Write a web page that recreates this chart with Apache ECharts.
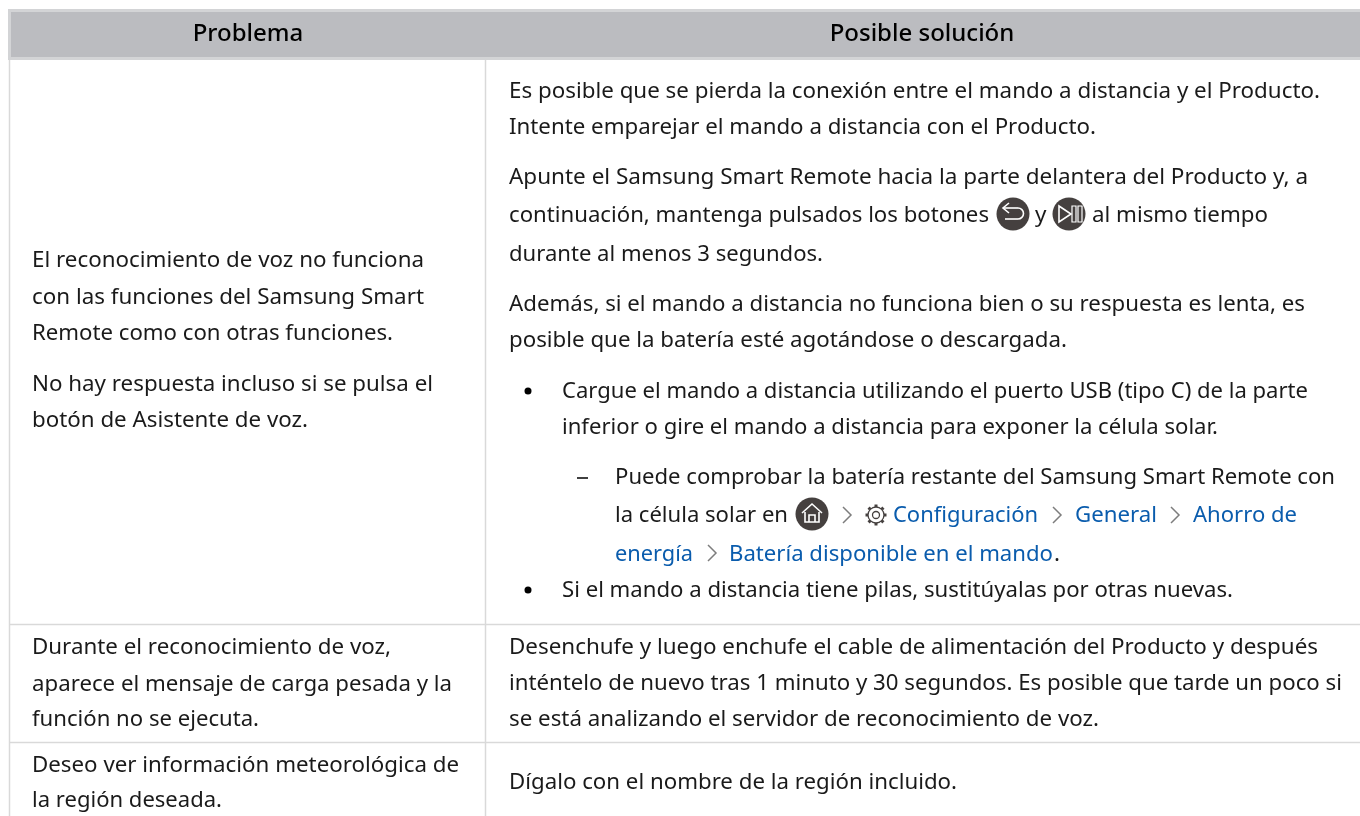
<!DOCTYPE html>
<html>
<head>
<meta charset="utf-8">
<style>
html, body { margin: 0; padding: 0; background: #fff; }
#main { width: 1360px; height: 816px; }
</style>
<script src="https://cdn.jsdelivr.net/npm/echarts@6/dist/echarts.min.js"></script>
</head>
<body>
<div id="main"></div>
<script>
// table text
const headers = ['Problema', 'Posible solución']
const problemLines = [
  'El reconocimiento de voz no funciona',
  'con las funciones del Samsung Smart',
  'Remote como con otras funciones.',
  'No hay respuesta incluso si se pulsa el',
  'botón de Asistente de voz.',
  'Durante el reconocimiento de voz,',
  'aparece el mensaje de carga pesada y la',
  'función no se ejecuta.',
  'Deseo ver información meteorológica de',
  'la región deseada.'
]
const solutionLines = [
  'Es posible que se pierda la conexión entre el mando a distancia y el Producto.',
  'Intente emparejar el mando a distancia con el Producto.',
  'Apunte el Samsung Smart Remote hacia la parte delantera del Producto y, a',
  'continuación, mantenga pulsados los botones',
  'y',
  'al mismo tiempo',
  'durante al menos 3 segundos.',
  'Además, si el mando a distancia no funciona bien o su respuesta es lenta, es',
  'posible que la batería esté agotándose o descargada.',
  'Desenchufe y luego enchufe el cable de alimentación del Producto y después',
  'inténtelo de nuevo tras 1 minuto y 30 segundos. Es posible que tarde un poco si',
  'se está analizando el servidor de reconocimiento de voz.',
  'Dígalo con el nombre de la región incluido.'
]
const bulletLines = [
  'Cargue el mando a distancia utilizando el puerto USB (tipo C) de la parte',
  'inferior o gire el mando a distancia para exponer la célula solar.',
  'Si el mando a distancia tiene pilas, sustitúyalas por otras nuevas.'
]
const subLines = [
  'Puede comprobar la batería restante del Samsung Smart Remote con',
  'la célula solar en',
  'energía'
]
const menuPath = ['Configuración', 'General', 'Ahorro de', 'Batería disponible en el mando']

const font = '"Noto Sans", sans-serif'
const fontSize = 22.4
const inkColor = '#1a1a1a'
const linkColor = '#0a5cad'
const lineColor = '#d9d9d9'
const chevronColor = '#7d7d7d'
const iconColor = '#45403f'

const measureCtx = document.createElement('canvas').getContext('2d')

// endX squeezes the line a little so it stops where the original font stops
function label(text, x, baseline, color, endX) {
  const fontStr = '400 ' + fontSize + 'px ' + font
  measureCtx.font = fontStr
  const scale = endX ? (endX - x) / measureCtx.measureText(text).width : 1
  return {
    type: 'text',
    x: x,
    y: baseline + 1 - fontSize * 0.388,
    scaleX: scale,
    style: { text: text, fill: color || inkColor, font: fontStr, align: 'left', verticalAlign: 'middle' }
  }
}
function headerLabel(text, x) {
  return {
    type: 'text',
    x: x,
    y: 34.2,
    style: { text: text, fill: '#000', font: '500 24px ' + font, align: 'center', verticalAlign: 'middle' }
  }
}
function rule(x1, y1, x2, y2) {
  return { type: 'line', shape: { x1: x1, y1: y1, x2: x2, y2: y2 }, style: { stroke: lineColor, lineWidth: 1.5 } }
}
function chevron(cx, cy) {
  return {
    type: 'polyline',
    shape: { points: [[cx - 4, cy - 8], [cx + 4, cy], [cx - 4, cy + 8]] },
    style: { stroke: chevronColor, lineWidth: 1.5, fill: 'none' }
  }
}
function disc(cx, cy) {
  return { type: 'circle', shape: { cx: cx, cy: cy, r: 16.5 }, style: { fill: iconColor } }
}
function stroke(points, close) {
  return {
    type: close ? 'polygon' : 'polyline',
    shape: { points: points },
    style: { stroke: '#fff', lineWidth: 1.6, fill: 'none' }
  }
}
function backIcon(cx, cy) {
  return [
    disc(cx, cy),
    stroke([[cx - 4, cy - 11], [cx - 10, cy - 6], [cx - 4, cy - 1]]),
    stroke([[cx - 10, cy - 6], [cx + 5, cy - 6]]),
    {
      type: 'arc',
      shape: { cx: cx + 5, cy: cy - 0.5, r: 5.5, startAngle: -Math.PI / 2, endAngle: Math.PI / 2, clockwise: true },
      style: { stroke: '#fff', lineWidth: 1.6, fill: 'none' }
    },
    stroke([[cx + 5, cy + 5], [cx - 8, cy + 5]])
  ]
}
function playPauseIcon(cx, cy) {
  return [
    disc(cx, cy),
    stroke([[cx - 10, cy - 8], [cx + 2, cy], [cx - 10, cy + 8]], true),
    { type: 'rect', shape: { x: cx + 3, y: cy - 8, width: 4, height: 16 }, style: { stroke: '#fff', lineWidth: 1.2, fill: 'none' } },
    { type: 'rect', shape: { x: cx + 9, y: cy - 8, width: 4, height: 16 }, style: { stroke: '#fff', lineWidth: 1.2, fill: 'none' } }
  ]
}
function homeIcon(cx, cy) {
  return [
    disc(cx, cy),
    stroke([[cx - 10, cy - 1], [cx, cy - 10], [cx + 10, cy - 1]]),
    stroke([[cx - 7, cy - 2], [cx - 7, cy + 8], [cx + 7, cy + 8], [cx + 7, cy - 2]]),
    stroke([[cx - 3, cy + 8], [cx - 3, cy + 1], [cx + 3, cy + 1], [cx + 3, cy + 8]])
  ]
}
function gearIcon(cx, cy) {
  const teeth = [0, 1, 2, 3, 4, 5, 6, 7].map(i => {
    const a = i * Math.PI / 4
    return {
      type: 'line',
      shape: {
        x1: cx + Math.cos(a) * 7.5, y1: cy + Math.sin(a) * 7.5,
        x2: cx + Math.cos(a) * 10.5, y2: cy + Math.sin(a) * 10.5
      },
      style: { stroke: iconColor, lineWidth: 3 }
    }
  })
  return teeth.concat([
    { type: 'circle', shape: { cx: cx, cy: cy, r: 8 }, style: { stroke: iconColor, lineWidth: 1.3, fill: '#fff' } },
    { type: 'circle', shape: { cx: cx, cy: cy, r: 3.5 }, style: { stroke: iconColor, lineWidth: 1.3, fill: '#fff' } }
  ])
}

const elements = [
  { type: 'rect', shape: { x: 8, y: 9, width: 1352, height: 51 }, style: { fill: '#d3d4d6' } },
  { type: 'rect', shape: { x: 11, y: 12, width: 1349, height: 45 }, style: { fill: '#bbbcc0' } },
  rule(9.5, 60, 9.5, 816),
  rule(485.5, 60, 485.5, 816),
  rule(10, 624.5, 1360, 624.5),
  rule(10, 742.5, 1360, 742.5),
  headerLabel(headers[0], 248),
  headerLabel(headers[1], 922)
]

const problemBase = [268, 305, 341, 392, 428, 655, 692, 727, 773, 808]
const problemEnd = [424, 424, 393, 433, 308, 391, 452, 259, 459, 222]
problemLines.forEach((t, i) => elements.push(label(t, 32, problemBase[i], inkColor, problemEnd[i])))

const solutionPos = [
  [509, 99], [509, 135], [509, 185], [509, 223], [1035, 223], [1092, 223], [509, 262],
  [509, 312], [509, 348], [509, 655], [509, 691], [509, 727], [509, 790]
]
const solutionEnd = [1320, 1096, 1308, 989, 0, 1268, 823, 1305, 1067, 1318, 1342, 1099, 957]
solutionLines.forEach((t, i) => elements.push(label(t, solutionPos[i][0], solutionPos[i][1], inkColor, solutionEnd[i])))

const bulletBase = [399, 435, 598]
const bulletEnd = [1308, 1218, 1233]
bulletLines.forEach((t, i) => elements.push(label(t, 562, bulletBase[i], inkColor, bulletEnd[i])))
elements.push({ type: 'circle', shape: { cx: 528, cy: 391, r: 3.5 }, style: { fill: '#000' } })
elements.push({ type: 'circle', shape: { cx: 528, cy: 590, r: 3.5 }, style: { fill: '#000' } })

const subBase = [485, 523, 562]
const subEnd = [1335, 788, 693]
subLines.forEach((t, i) => elements.push(label(t, 615, subBase[i], i === 2 ? linkColor : inkColor, subEnd[i])))
elements.push({ type: 'line', shape: { x1: 577, y1: 478, x2: 588, y2: 478 }, style: { stroke: '#000', lineWidth: 1.5 } })

const menuPos = [[893, 523], [1075, 523], [1193, 523], [729, 562]]
const menuEnd = [1038, 1157, 1297, 1053]
menuPath.forEach((t, i) => elements.push(label(t, menuPos[i][0], menuPos[i][1], linkColor, menuEnd[i])))
elements.push(label('.', 1054, 562))
;[[847, 515], [1057, 515], [1175, 515], [712, 553]].forEach(p => elements.push(chevron(p[0], p[1])))

backIcon(1013, 214).forEach(e => elements.push(e))
playPauseIcon(1069, 214).forEach(e => elements.push(e))
homeIcon(812, 514).forEach(e => elements.push(e))
gearIcon(876, 515).forEach(e => elements.push(e))

const chart = echarts.init(document.getElementById('main'), null, { renderer: 'canvas' })
chart.setOption({
  backgroundColor: '#fff',
  animation: false,
  graphic: { elements: elements }
})
</script>
</body>
</html>
